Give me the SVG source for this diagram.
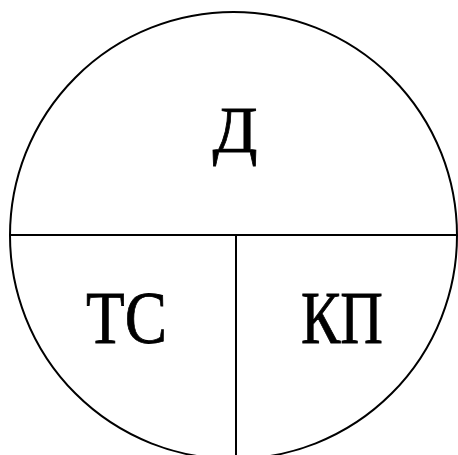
<svg xmlns="http://www.w3.org/2000/svg" width="458" height="455" viewBox="0 0 458 455">
<style>
.ln{fill:none;stroke:#000;stroke-width:2}
.t{font-family:"Liberation Serif","Times New Roman",serif;fill:#000;stroke:#000;stroke-width:0.8;text-anchor:middle}
</style>
<rect width="458" height="455" fill="#fff"/>
<g id="connectors">
<circle class="ln" cx="233.5" cy="235.5" r="223.5"/>
<line class="ln" x1="10" y1="235" x2="457" y2="235"/>
<line class="ln" x1="236" y1="235" x2="236" y2="455"/>
</g>
<g id="node-D"><text class="t" x="235" y="152" font-size="66">Д</text></g>
<g id="node-TS"><text class="t" x="126.5" y="343" font-size="75" textLength="81" lengthAdjust="spacingAndGlyphs">ТС</text></g>
<g id="node-KP"><text class="t" x="342" y="343" font-size="75" textLength="82" lengthAdjust="spacingAndGlyphs">КП</text></g>
</svg>
